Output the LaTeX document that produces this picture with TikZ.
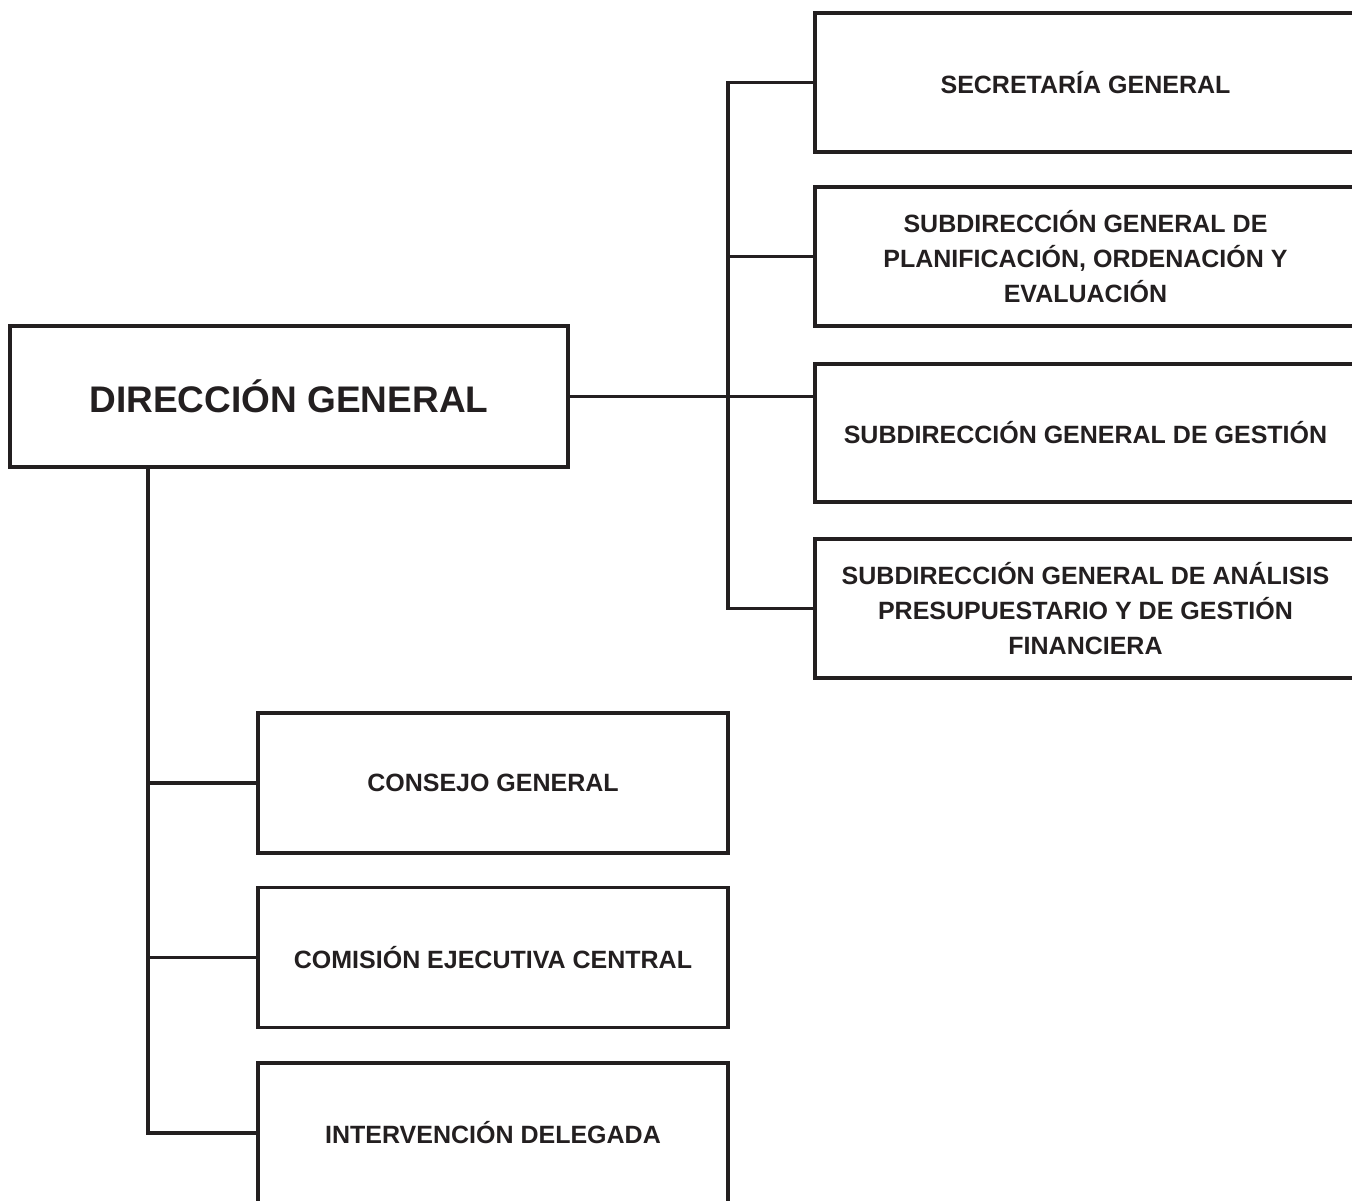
\documentclass[tikz,border=0pt]{standalone}
\usepackage{fontspec}
\setmainfont{Liberation Sans}
\definecolor{ink}{RGB}{35,31,32}
\begin{document}
\begin{tikzpicture}[x=1pt,y=-1pt,
  box/.style={draw=ink, text=ink, line width=3.5pt, inner sep=0pt, align=center,
    font=\bfseries\fontsize{25}{35}\selectfont},
  rbox/.style={box, minimum width=541pt, minimum height=139pt},
  lbox/.style={box, minimum width=470pt, minimum height=140pt},
  conn/.style={draw=ink, line width=3.5pt}]
\useasboundingbox (0,0) rectangle (1352,1200);
% main box
\node[box, minimum width=558pt, minimum height=141pt, font=\bfseries\fontsize{37}{44}\selectfont]
  (dg) at (289,396.5) {DIRECCIÓN GENERAL};
% right boxes
\node[rbox] (b1) at (1085.5,82.5) {SECRETARÍA GENERAL};
\node[rbox] (b2) at (1085.5,256.5) {SUBDIRECCIÓN GENERAL DE\\PLANIFICACIÓN, ORDENACIÓN Y\\EVALUACIÓN};
\node[rbox, minimum height=138pt] (b3) at (1085.5,433) {SUBDIRECCIÓN GENERAL DE GESTIÓN};
\node[rbox] (b4) at (1085.5,608.5) {SUBDIRECCIÓN GENERAL DE ANÁLISIS\\PRESUPUESTARIO Y DE GESTIÓN\\FINANCIERA};
% lower boxes
\node[lbox] (c1) at (493,783) {CONSEJO GENERAL};
\node[lbox] (c2) at (493,957.5) {COMISIÓN EJECUTIVA CENTRAL};
\node[lbox] (c3) at (493,1133) {INTERVENCIÓN DELEGADA};
% trunks
\coordinate (tr) at (728,0);
\coordinate (lt) at (148,0);
\draw[conn] (b1.west) -- (b1.west -| tr) -- (b4.west -| tr) -- (b4.west);
\draw[conn] (b2.west) -- (b2.west -| tr);
\draw[conn] (dg.east) -- (dg.east -| b3.west);
\draw[conn] (dg.south -| lt) -- (c3.west -| lt) -- (c3.west);
\draw[conn] (c1.west) -- (c1.west -| lt);
\draw[conn] (c2.west) -- (c2.west -| lt);
\end{tikzpicture}
\end{document}
